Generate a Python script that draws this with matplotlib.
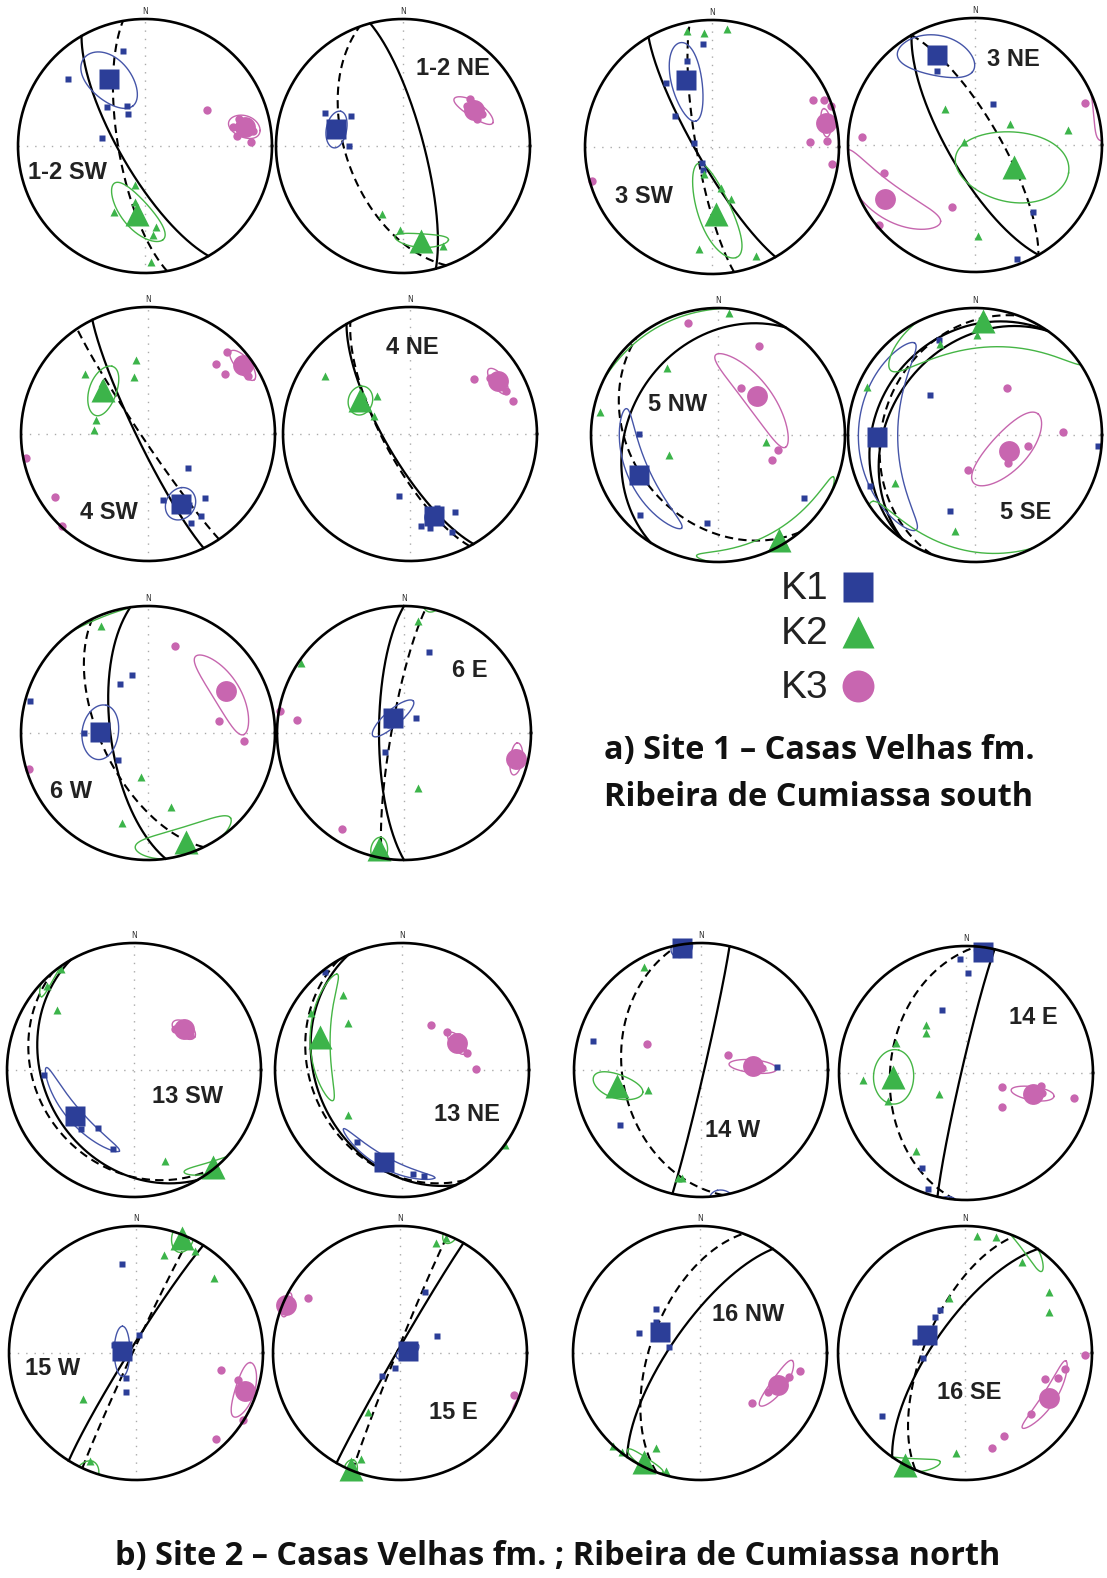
import numpy as np
import matplotlib.pyplot as plt

W, H, DPI = 1107, 1578, 100
R = 127      # net radius in px
E = 1.12     # half extent of each net axes, in radii

BLUE, GREEN, PINK = '#2c3e98', '#3cb44a', '#c866b0'
BLUE_L, GREEN_L, PINK_L = '#4555a8', '#45b545', '#c666ae'

NETS = ['1-2 SW', '1-2 NE', '3 SW', '3 NE', '4 SW', '4 NE', '5 NW', '5 SE', '6 W', '6 E',
        '13 SW', '13 NE', '14 W', '14 E', '15 W', '15 E', '16 NW', '16 SE']

# planes as (strike, dip), right-hand rule
BEDDING = [[(150, 74)], [(345, 77)], [(150, 80)], [(150, 73)], [(154, 83)], [(150, 74)],
           [(212, 31)], [(215, 23), (215, 33)], [(172, 66)], [(180, 74)],
           [(150, 30)], [(155, 33)], [(13, 88)], [(193, 87)], [(212, 86)], [(210, 88)],
           [(215, 72)], [(215, 70)]]
FOLIATION = [(170, 73), (160, 53), (170, 80), (330, 74), (146, 86), (152, 73),
             (140, 33), (200, 28), (154, 60), (190, 82),
             (140, 25), (150, 30), (170, 38), (185, 40), (205, 88), (202, 88),
             (200, 58), (203, 64)]

# susceptibility axes as (trend, plunge)
K1_MEAN = [(332, 40), (284, 45), (339, 43), (337, 24), (155, 39), (164, 33), (243, 31), (269, 24),
           (271, 59), (323, 78), (232, 41), (191, 27), (351, 3), (8, 4), (277, 81), (77, 85),
           (298, 61), (296, 63)]
K1_SPEC = [
    [(347, 24), (311, 21), (316, 55), (332, 67), (280, 62), (336, 62)],
    [(293, 34), (300, 51), (270, 55), (288, 40)],
    [(355, 20), (344, 30), (324, 38), (310, 59), (281, 78), (211, 78), (200, 74)],
    [(333, 35), (24, 61), (139, 31), (160, 5)],
    [(131, 56), (138, 33), (147, 24), (154, 23), (167, 46), (150, 36)],
    [(190, 49), (173, 28), (157, 17), (160, 38), (150, 30), (168, 25)],
    [(271, 38), (224, 13), (187, 31), (126, 17)],
    [(339, 21), (312, 51), (244, 9), (198, 37), (95, 3)],
    [(270, 48), (229, 64), (330, 53), (345, 51), (285, 4)],
    [(38, 78), (225, 73), (17, 34), (300, 80)],
    [(267, 30), (212, 45), (195, 36), (222, 38)],
    [(322, 2), (212, 34), (174, 19), (168, 16)],
    [(350, 8), (285, 13), (236, 24), (88, 40)],
    [(357, 11), (1, 22), (339, 46), (205, 19), (198, 4)],
    [(351, 30), (202, 73), (195, 64), (290, 75), (10, 78)],
    [(65, 64), (218, 71), (22, 47), (200, 80)],
    [(315, 49), (288, 48), (282, 70), (305, 55)],
    [(320, 60), (283, 57), (233, 19), (263, 63), (330, 58)],
]
K1_CONF = [(24, 12, 140), (11, 7, 10), (28, 9, 167), (25, 13, 119), (11, 9, 0), (6, 5, 0),
           (38, 8, 156), (55, 15, 0), (17, 12, 10), (17, 5, 49), (33, 5, 138), (30, 4, 125),
           (8, 5, 0), (6, 4, 0), (16, 5, 0), (8, 4, 60), None, None]

K2_MEAN = [(187, 45), (169, 25), (177, 46), (120, 61), (314, 49), (304, 51), (150, 5), (4, 11),
           (161, 10), (192, 7), (141, 2), (292, 31), (259, 33), (267, 42), (22, 3), (203, 1),
           (207, 4), (208, 0)]
K2_SPEC = [
    [(195, 64), (205, 42), (175, 30), (177, 9), (190, 53), (172, 36)],
    [(182, 34), (158, 16), (197, 43)],
    [(197, 72), (167, 63), (160, 54), (187, 20), (158, 8), (348, 7), (356, 11), (7, 7)],
    [(320, 60), (59, 64), (81, 27), (286, 83), (178, 29)],
    [(351, 41), (346, 52), (314, 32), (285, 55), (274, 55), (318, 45)],
    [(304, 20), (296, 64), (319, 57), (300, 55), (310, 50)],
    [(5, 4), (323, 34), (281, 6), (248, 56), (98, 59)],
    [(1, 22), (339, 24), (294, 8), (239, 27), (192, 24)],
    [(336, 9), (189, 61), (163, 39), (196, 27)],
    [(7, 12), (304, 2), (166, 53)],
    [(161, 25), (324, 2), (314, 5), (308, 24)],
    [(322, 26), (302, 17), (311, 43), (230, 44), (126, 0)],
    [(331, 8), (249, 53), (192, 14), (190, 15)],
    [(320, 49), (315, 53), (293, 40), (266, 20), (233, 68), (213, 28), (250, 35)],
    [(16, 21), (46, 16), (229, 44), (203, 8), (30, 8)],
    [(208, 46), (18, 10), (22, 3), (200, 12)],
    [(223, 0), (218, 1), (196, 4), (205, 19)],
    [(185, 22), (6, 8), (15, 6), (32, 17), (54, 19), (64, 27), (344, 53)],
]
K2_CONF = [(24, 9, 145), (15, 5, 100), (35, 10, 161), (38, 22, 100), (16, 9, 14), (9, 8, 0),
           (40, 8, 60), (55, 20, 80), (25, 12, 75), (10, 4, 10), (16, 4, 90), (38, 7, 355),
           (18, 7, 100), (16, 14, 10), (12, 5, 20), (8, 3, 20), (10, 4, 130), (20, 5, 75)]

K3_MEAN = [(79, 21), (63, 37), (78, 9), (239, 18), (54, 8), (59, 20), (45, 54), (115, 66),
           (62, 31), (103, 10), (51, 48), (64, 50), (86, 56), (107, 44), (109, 10), (293, 3),
           (112, 34), (118, 26)]
K3_SPEC = [
    [(60, 43), (78, 30), (82, 15), (84, 28), (74, 24), (88, 18)],
    [(58, 40), (68, 33), (55, 36), (70, 38)],
    [(65, 13), (67, 5), (71, 1), (87, 24), (87, 10), (98, 5), (254, 2)],
    [(253, 26), (274, 12), (230, 2), (200, 47), (69, 8)],
    [(44, 11), (44, 24), (52, 24), (60, 10), (259, 2), (236, 13), (223, 1)],
    [(49, 34), (72, 16), (55, 24), (66, 18)],
    [(345, 10), (25, 24), (26, 56), (104, 50), (115, 51)],
    [(34, 53), (88, 31), (102, 55), (191, 67), (130, 62)],
    [(17, 29), (80, 43), (95, 25), (253, 2), (58, 33)],
    [(100, 12), (277, 16), (280, 1), (213, 11)],
    [(48, 50), (58, 47), (45, 52), (55, 45)],
    [(33, 55), (50, 52), (89, 41), (75, 46), (60, 47)],
    [(296, 51), (61, 70), (88, 50)],
    [(111, 65), (134, 58), (103, 14), (105, 38), (100, 40)],
    [(101, 32), (122, 1), (137, 8), (105, 18)],
    [(301, 17), (110, 5)],
    [(100, 21), (134, 43), (120, 38), (105, 28)],
    [(91, 6), (99, 21), (108, 34), (133, 30), (155, 29), (164, 23), (105, 25)],
]
K3_CONF = [(12, 6, 95), (14, 5, 115), (7, 4, 0), (35, 12, 114), (9, 6, 135), (8, 5, 140),
           (36, 9, 144), (30, 12, 44), (26, 10, 147), (8, 5, 0), (8, 5, 120), (8, 4, 140),
           (16, 4, 95), (15, 4, 100), (14, 8, 15), (6, 4, 0), (16, 5, 40), (22, 5, 35)]

# layout: net centres in px, label positions in net radii
CENTERS = [(145, 146), (403, 146), (712, 147), (975, 145),
           (148, 434), (410, 434), (718, 435), (975, 435),
           (148, 733), (404, 733),
           (134, 1070), (402, 1070), (701, 1070), (966, 1073),
           (136, 1353), (400, 1353), (700, 1353), (965, 1353)]
LABEL_XY = [(-0.61, -0.21), (0.39, 0.61), (-0.535, -0.39), (0.30, 0.67),
            (-0.31, -0.62), (0.02, 0.68), (-0.32, 0.24), (0.40, -0.61),
            (-0.61, -0.46), (0.52, 0.49),
            (0.42, -0.21), (0.51, -0.35), (0.25, -0.48), (0.53, 0.44),
            (-0.66, -0.12), (0.42, -0.47), (0.38, 0.30), (0.03, -0.31)]


def to_xyz(trend, plunge):
    t = np.radians(np.asarray(trend, float))
    p = np.radians(np.asarray(plunge, float))
    return np.array([np.cos(p) * np.sin(t), np.cos(p) * np.cos(t), np.sin(p)])


def schmidt(v):
    # equal-area, lower hemisphere
    v = np.where(v[2] < 0, -v, v)
    k = 1.0 / np.sqrt(1.0 + v[2])
    return v[0] * k, v[1] * k


def great_circle(strike, dip):
    s, d = np.radians(strike), np.radians(dip)
    a = np.linspace(0, np.pi, 181)
    sv = np.array([np.sin(s), np.cos(s), 0.0])
    dv = np.array([np.cos(d) * np.cos(s), -np.cos(d) * np.sin(s), np.sin(d)])
    return schmidt(sv[:, None] * np.cos(a) + dv[:, None] * np.sin(a))


def cone(trend, plunge, a, b, az):
    t, p = np.radians(trend), np.radians(plunge)
    m = to_xyz(trend, plunge)
    w = np.array([np.sin(p) * np.sin(t), np.sin(p) * np.cos(t), -np.cos(p)])
    u = np.array([np.cos(t), -np.sin(t), 0.0])
    g = np.radians(az - trend)
    M = np.cos(g) * w + np.sin(g) * u
    N = -np.sin(g) * w + np.cos(g) * u
    phi = np.linspace(0, 2 * np.pi, 361)
    A, B = np.radians(a), np.radians(b)
    rho = A * B / np.sqrt((B * np.cos(phi)) ** 2 + (A * np.sin(phi)) ** 2)
    d = M[:, None] * np.cos(phi) + N[:, None] * np.sin(phi)
    x, y = schmidt(m[:, None] * np.cos(rho) + d * np.sin(rho))
    jump = np.where(np.hypot(np.diff(x), np.diff(y)) > 0.4)[0] + 1
    return np.insert(x, jump, np.nan), np.insert(y, jump, np.nan)


SERIES = [
    (K1_MEAN, K1_SPEC, K1_CONF, 's', BLUE, BLUE_L, 14.5, 5.0),
    (K2_MEAN, K2_SPEC, K2_CONF, '^', GREEN, GREEN_L, 17.0, 6.0),
    (K3_MEAN, K3_SPEC, K3_CONF, 'o', PINK, PINK_L, 15.0, 6.0),
]


def draw_net(ax, i):
    ax.set_xlim(-E, E)
    ax.set_ylim(-E, E)
    ax.axis('off')
    ax.plot([-1, 1], [0, 0], ls=(0, (1, 5)), color='#aaaaaa', lw=1.0, zorder=1)
    ax.plot([0, 0], [-1, 1], ls=(0, (1, 5)), color='#aaaaaa', lw=1.0, zorder=1)
    ax.text(0, 1.025, 'N', ha='center', va='bottom', fontsize=5.5, color='#333333')

    for strike, dip in BEDDING[i]:
        x, y = great_circle(strike, dip)
        ax.plot(x, y, color='black', lw=1.6, zorder=2)
    x, y = great_circle(*FOLIATION[i])
    ax.plot(x, y, color='black', lw=1.5, ls=(0, (4, 2.5)), zorder=2)

    for mean, spec, conf, mk, col, lcol, big, small in SERIES:
        if conf[i] is not None:
            x, y = cone(*mean[i], *conf[i])
            ax.plot(x, y, color=lcol, lw=1.0, zorder=3)
        tr, pl = zip(*spec[i])
        x, y = schmidt(to_xyz(tr, pl))
        ax.plot(x, y, ls='none', marker=mk, ms=small, color=col, mec='none',
                zorder=4, clip_on=False)
        x, y = schmidt(to_xyz(*mean[i]))
        ax.plot([x], [y], ls='none', marker=mk, ms=big, color=col, mec='none',
                zorder=5, clip_on=False)

    th = np.linspace(0, 2 * np.pi, 400)
    ax.plot(np.cos(th), np.sin(th), color='black', lw=1.9, zorder=6)
    lx, ly = LABEL_XY[i]
    ax.text(lx, ly, NETS[i], ha='center', va='center', fontsize=17, fontweight='bold',
            family='Liberation Sans', color='#222222', zorder=7)


fig = plt.figure(figsize=(W / DPI, H / DPI), dpi=DPI)
ax0 = fig.add_axes([0, 0, 1, 1])
ax0.set_xlim(0, W)
ax0.set_ylim(H, 0)
ax0.axis('off')

for i, (cx, cy) in enumerate(CENTERS):
    ax = fig.add_axes([(cx - E * R) / W, 1 - (cy + E * R) / H, 2 * E * R / W, 2 * E * R / H])
    draw_net(ax, i)

# legend
for lab, mk, col, ms, yy in [('K1', 's', BLUE, 21.5, 587), ('K2', '^', GREEN, 23, 632),
                             ('K3', 'o', PINK, 23, 686)]:
    ax0.text(781, yy + 2, lab, ha='left', va='center', fontsize=28, family='Liberation Sans',
             color='#222222')
    ax0.plot([858], [yy], marker=mk, ms=ms, color=col, mec='none', ls='none')

title_font = dict(fontsize=23.4, fontweight='bold', family='Open Sans', color='#111111')
ax0.text(604, 750, 'a) Site 1 \u2013 Casas Velhas fm.', ha='left', va='center', **title_font)
ax0.text(604, 797, 'Ribeira de Cumiassa south', ha='left', va='center', **title_font)
ax0.text(558, 1557, 'b) Site 2 \u2013 Casas Velhas fm. ; Ribeira de Cumiassa north',
         ha='center', va='center', **title_font)

fig.savefig('out.png', dpi=DPI)
